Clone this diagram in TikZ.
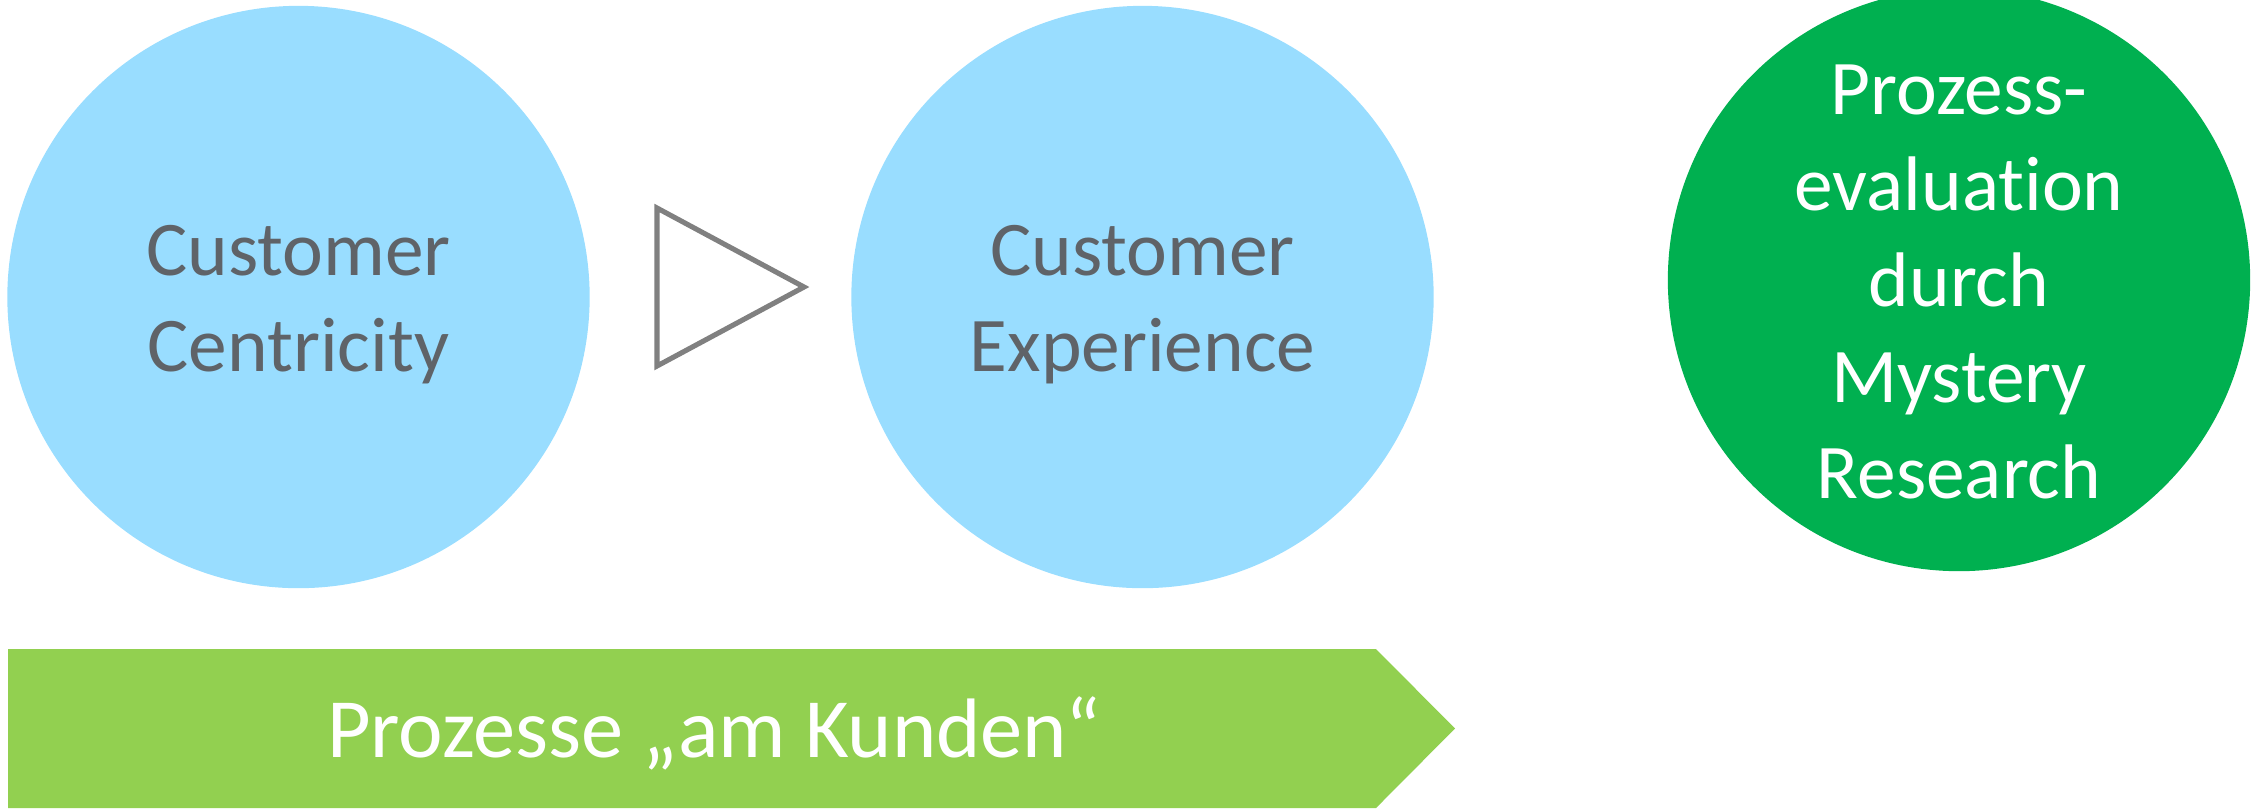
\documentclass[tikz,border=0pt]{standalone}
\usepackage{fontspec}
\setmainfont{Carlito}[Ligatures={NoCommon}]
\definecolor{skyblue}{HTML}{99DDFF}
\definecolor{deepgreen}{HTML}{00B050}
\definecolor{limegreen}{HTML}{92D050}
\definecolor{inkgray}{HTML}{5F6368}
\definecolor{flowgray}{HTML}{808080}
\tikzset{
  bubble/.style={circle, inner sep=0pt, minimum size=5.82cm, draw=none},
  bubbletext/.style={anchor=north, inner sep=0pt, align=center,
    font=\fontsize{22}{27.3}\selectfont},
  bartext/.style={anchor=base, inner sep=0pt, text=white,
    font=\fontsize{24}{29}\selectfont},
}
\begin{document}
\begin{tikzpicture}[x=0.01cm, y=-0.01cm]
  \useasboundingbox (0,0) rectangle (2261,808);
  \clip (0,0) rectangle (2261,808);

  % two light blue circles and the flow triangle between them
  \node[bubble, fill=skyblue] (centricity) at (298.5,297) {};
  \node[bubble, fill=skyblue] (experience) at (1142.5,297) {};
  \node[bubbletext, text=inkgray] (centricitytext) at (298.5,225) {Customer\\Centricity};
  \node[bubbletext, text=inkgray] (experiencetext) at (1142.5,225) {Customer\\Experience};
  \draw[flowgray, line width=1.45pt] (657,208) -- (804,287) -- (657,366) -- cycle;

  % green evaluation circle, cut by the top edge
  \node[bubble, fill=deepgreen] (evaluation) at (1959,280) {};
  \node[bubbletext, text=white] (evaluationtext) at (1959,64)
    {Prozess-\\evaluation\\durch\\Mystery\\Research};

  % process arrow along the bottom
  \fill[limegreen] (8,649) -- (1376,649) -- (1455,728.5) -- (1376,808) -- (8,808) -- cycle;
  \node[bartext] (processtext) at (714,757) {Prozesse „am Kunden“};
\end{tikzpicture}
\end{document}
